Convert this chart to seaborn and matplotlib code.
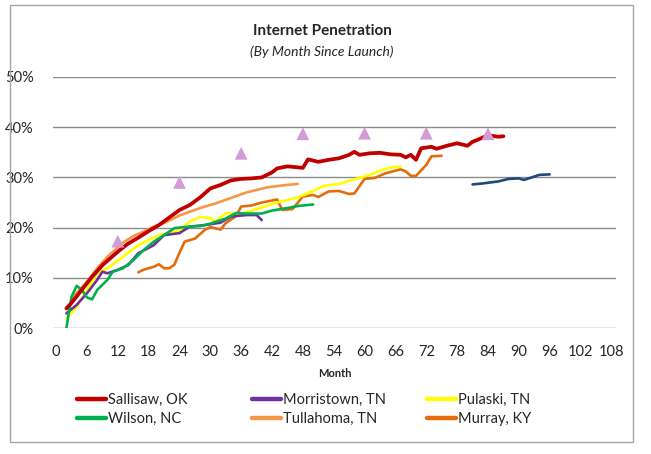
import matplotlib
matplotlib.use("Agg")
import matplotlib.pyplot as plt
import seaborn as sns
from matplotlib.patches import Rectangle
from matplotlib.lines import Line2D

# series (month since launch, penetration %)
sallisaw_m = [2, 3, 5, 7, 9, 12, 14, 16, 18, 20, 22, 24, 26, 28, 30, 32, 34, 36, 38, 40, 42, 43, 45, 47, 48, 49,
              51, 53, 55, 57, 58, 59, 61, 63, 65, 67, 68, 69, 70, 71, 73, 74, 76, 78, 80, 81, 82, 84, 86, 87]
sallisaw_v = [3.9, 5.0, 7.6, 10.2, 12.5, 15.2, 16.8, 18.0, 19.3, 20.5, 22.0, 23.5, 24.5, 26.0, 27.8, 28.5, 29.4,
              29.7, 29.8, 30.0, 31.0, 31.8, 32.2, 32.0, 31.9, 33.6, 33.1, 33.5, 33.8, 34.5, 35.1, 34.5, 34.8, 34.9,
              34.6, 34.5, 34.0, 34.5, 33.5, 35.8, 36.1, 35.7, 36.3, 36.8, 36.3, 37.1, 37.5, 38.4, 38.1, 38.2]

morristown_m = [2, 4, 6, 8, 9, 10, 12, 14, 16, 19, 21, 24, 26, 29, 32, 34, 37, 39, 40]
morristown_v = [2.9, 4.6, 6.9, 9.6, 11.2, 10.9, 11.6, 12.5, 14.9, 16.5, 18.5, 18.9, 20.2, 20.5, 21.0, 22.2,
                22.5, 22.5, 21.5]

pulaski_m = [2, 4, 6, 8, 10, 13, 16, 20, 24, 26, 28, 30, 31, 33, 36, 39, 43, 47, 50, 52, 55, 58, 61, 63, 65, 67]
pulaski_v = [1.9, 4.2, 7.6, 10.9, 11.9, 14.2, 16.5, 18.5, 19.4, 21.2, 22.1, 21.9, 21.2, 22.9, 22.7, 23.7, 25.0,
             26.0, 27.3, 28.3, 28.7, 29.6, 30.5, 31.3, 32.0, 32.1]

wilson_m = [2, 3, 4, 5, 6, 7, 8, 10, 11, 13, 15, 17, 19, 21, 23, 26, 28, 30, 33, 35, 37, 40, 42, 45, 47, 50]
wilson_v = [0.0, 6.2, 8.4, 7.6, 6.1, 5.7, 7.6, 9.6, 11.2, 11.9, 13.5, 15.5, 17.2, 18.5, 19.9, 20.2, 20.3, 20.8,
            21.8, 22.9, 22.8, 22.8, 23.4, 23.9, 24.3, 24.6]

tullahoma_m = [3, 6, 8, 10, 13, 15, 17, 19, 21, 24, 28, 31, 34, 37, 41, 44, 47]
tullahoma_v = [5.9, 9.2, 11.9, 14.2, 17.0, 18.3, 19.2, 20.2, 20.9, 22.4, 23.9, 24.8, 25.9, 27.0, 28.0, 28.4, 28.7]

murray_m = [16, 17, 19, 20, 21, 22, 23, 24, 25, 27, 28, 29, 30, 32, 33, 35, 36, 38, 40, 43, 44, 46, 48, 50, 51,
            53, 55, 57, 58, 60, 62, 64, 67, 68, 69, 70, 72, 73, 75]
murray_v = [11.1, 11.6, 12.2, 12.7, 11.9, 11.9, 12.6, 15.0, 17.2, 17.8, 18.7, 19.6, 20.1, 19.6, 20.9, 22.3, 24.2,
            24.4, 25.0, 25.6, 23.5, 23.7, 26.2, 26.5, 26.1, 27.2, 27.3, 26.7, 26.8, 29.7, 29.9, 30.8, 31.6, 31.2,
            30.3, 30.3, 32.5, 34.2, 34.3]

other_m = [81, 83, 86, 88, 90, 91, 94, 96]
other_v = [28.6, 28.8, 29.2, 29.7, 29.8, 29.5, 30.5, 30.6]

target_m = [12, 24, 36, 48, 60, 72, 84]
target_v = [17.3, 29.0, 34.8, 38.7, 38.8, 38.8, 38.7]

x_ticks = list(range(0, 109, 6))
y_ticks = [0, 10, 20, 30, 40, 50]

sns.set_style("white")
plt.rcParams["font.family"] = ["Lato", "DejaVu Sans"]

fig = plt.figure(figsize=(6.51, 4.54), dpi=100)
ax = fig.add_axes([53 / 651, 1 - 328 / 454, (616 - 53) / 651, (328 - 77) / 454])

series = [
    ("Sallisaw, OK", sallisaw_m, sallisaw_v, "#C00000", 2.7),
    ("Wilson, NC", wilson_m, wilson_v, "#00B050", 1.9),
    ("Morristown, TN", morristown_m, morristown_v, "#7030A0", 1.9),
    ("Tullahoma, TN", tullahoma_m, tullahoma_v, "#F79646", 1.9),
    ("Pulaski, TN", pulaski_m, pulaski_v, "#FFFF00", 1.9),
    ("Murray, KY", murray_m, murray_v, "#E46C0A", 1.9),
]

sns.lineplot(x=other_m, y=other_v, color="#1F497D", linewidth=1.9, ax=ax)
for name, m, v, c, lw in series[::-1]:
    sns.lineplot(x=m, y=v, color=c, linewidth=lw, ax=ax)
sns.scatterplot(x=target_m, y=target_v, marker="^", s=85, color="#D49BD6", edgecolor="none", ax=ax, zorder=5)

ax.set_xlim(-0.6, 108.9)
ax.set_ylim(0, 50)
ax.set_xticks(x_ticks)
ax.set_yticks(y_ticks)
ax.set_yticklabels([f"{t}%" for t in y_ticks])
ax.tick_params(axis="both", length=0, labelsize=10.5)
ax.tick_params(axis="x", pad=12)
ax.tick_params(axis="y", pad=14)
ax.grid(axis="y", color="#8C8C8C", linewidth=1.0)
ax.set_axisbelow(True)
for s in ax.spines.values():
    s.set_visible(False)
ax.set_xlabel("Month", fontsize=8, fontweight="bold", labelpad=7)
ax.set_ylabel("")

fig.text(322 / 651, 1 - 31 / 454, "Internet Penetration", ha="center", va="center", fontsize=11, fontweight="bold")
fig.text(322 / 651, 1 - 52 / 454, "(By Month Since Launch)", ha="center", va="center", fontsize=10, style="italic")

# legend: three fixed-width columns, two rows each
col_x = [74, 249, 424]
for i, x0 in enumerate(col_x):
    pair = series[2 * i:2 * i + 2]
    handles = [Line2D([0], [0], color=c, linewidth=3.2) for _, _, _, c, _ in pair]
    labels = [n for n, _, _, _, _ in pair]
    fig.legend(handles, labels, loc="center left", bbox_to_anchor=(x0 / 651, 1 - 409.5 / 454),
               frameon=False, fontsize=10.5, handlelength=2.0, handletextpad=0.1, labelspacing=0.3,
               borderpad=0.2, borderaxespad=0)

fig.patches.append(Rectangle((10 / 651, 1 - 442 / 454), (633 - 10) / 651, (442 - 5) / 454,
                             transform=fig.transFigure, fill=False, edgecolor="#A6A6A6", linewidth=1.0))

fig.savefig("out.png", dpi=100)
